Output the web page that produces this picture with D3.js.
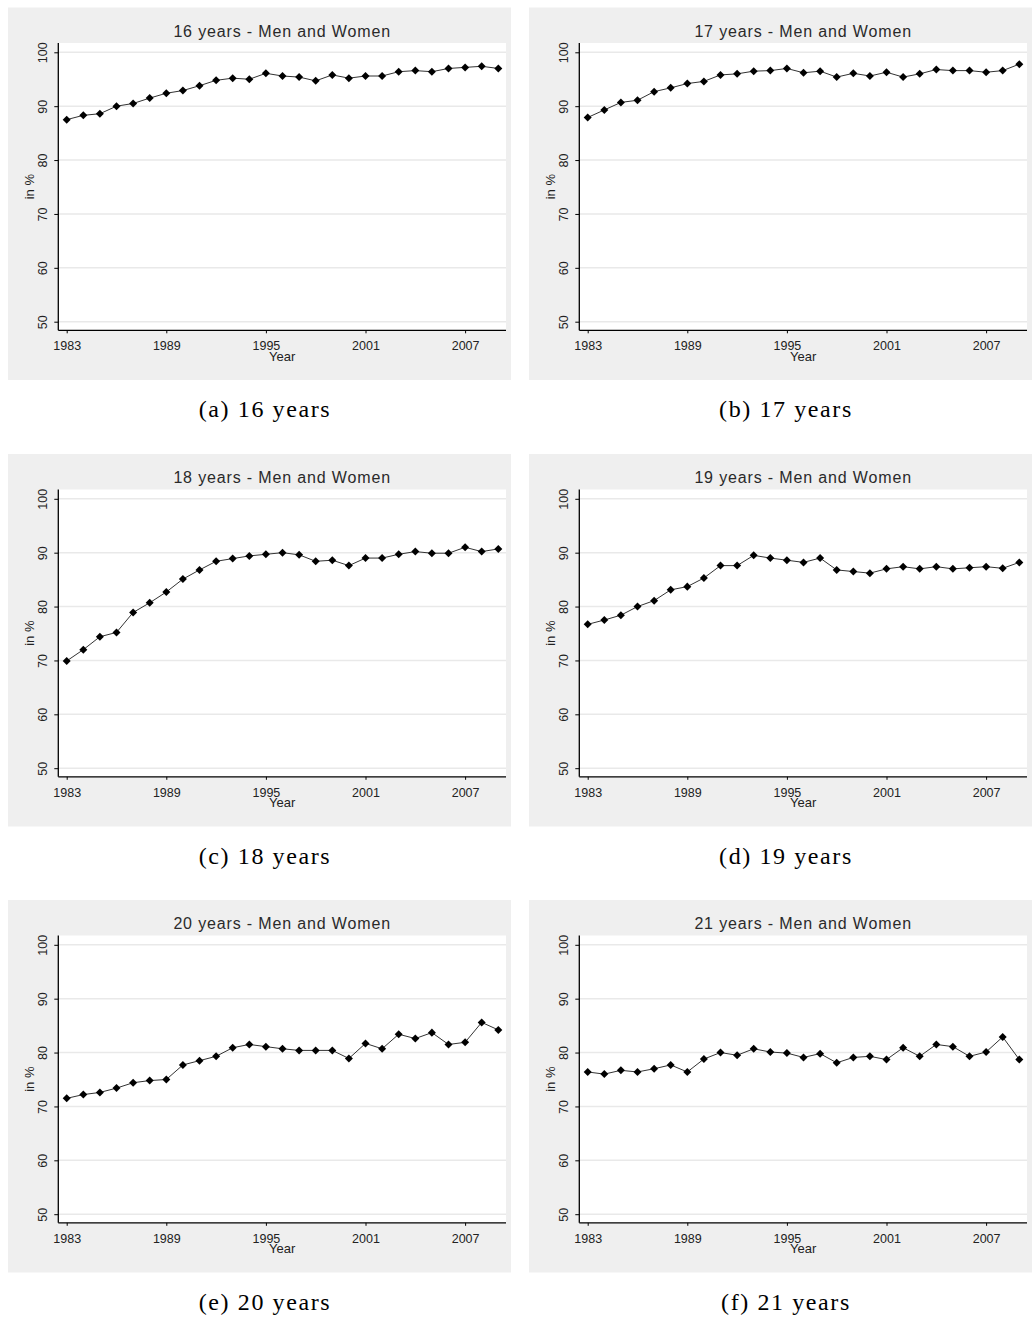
<!DOCTYPE html>
<html>
<head>
<meta charset="utf-8">
<script src="https://cdn.jsdelivr.net/npm/d3@7"></script>
<style>
  html, body { margin: 0; padding: 0; background: #ffffff; }
  svg { display: block; }
</style>
</head>
<body>
<svg id="chart" width="1034" height="1319"></svg>
<script>
// ---------- data ----------
const years = [1983,1984,1985,1986,1987,1988,1989,1990,1991,1992,1993,1994,1995,1996,1997,1998,1999,2000,2001,2002,2003,2004,2005,2006,2007,2008,2009];
const xTicks = [1983, 1989, 1995, 2001, 2007];
const yTicks = [50, 60, 70, 80, 90, 100];

const age16 = [87.5,88.3,88.6,90.0,90.5,91.5,92.4,92.9,93.8,94.8,95.2,95.0,96.1,95.6,95.4,94.7,95.8,95.2,95.6,95.6,96.4,96.6,96.4,97.0,97.2,97.4,97.0];
const age17 = [87.9,89.3,90.7,91.1,92.7,93.4,94.2,94.6,95.8,96.0,96.5,96.6,97.0,96.2,96.5,95.4,96.1,95.6,96.3,95.4,96.0,96.8,96.6,96.6,96.3,96.6,97.8];
const age18 = [69.9,72.0,74.4,75.2,78.9,80.7,82.7,85.1,86.8,88.4,88.9,89.4,89.7,90.0,89.6,88.4,88.6,87.6,89.0,89.0,89.7,90.2,89.9,89.9,91.0,90.2,90.7];
const age19 = [76.7,77.5,78.4,80.0,81.1,83.1,83.7,85.3,87.6,87.6,89.5,89.0,88.6,88.2,89.0,86.8,86.5,86.2,87.0,87.4,87.0,87.4,87.0,87.2,87.4,87.1,88.2];
const age20 = [71.5,72.2,72.6,73.4,74.4,74.8,75.0,77.7,78.5,79.3,80.9,81.5,81.1,80.7,80.4,80.4,80.4,78.9,81.7,80.7,83.4,82.6,83.7,81.5,81.9,85.6,84.2];
const age21 = [76.4,76.0,76.7,76.4,77.0,77.7,76.4,78.8,80.0,79.5,80.7,80.1,79.9,79.1,79.8,78.1,79.1,79.3,78.7,80.9,79.3,81.5,81.1,79.3,80.1,82.9,78.7];

const titles = ["16 years - Men and Women","17 years - Men and Women","18 years - Men and Women",
                "19 years - Men and Women","20 years - Men and Women","21 years - Men and Women"];
const captions = ["(a) 16 years","(b) 17 years","(c) 18 years","(d) 19 years","(e) 20 years","(f) 21 years"];
const series = [age16, age17, age18, age19, age20, age21];

// ---------- layout ----------
const colX = [8, 529];
const rowY = [7.5, 454, 900];
const panelW = 503, panelH = 372.5;
const plot = { left: 50.3, right: 498, top: 35.5, bottom: 322.8 };

const x = d3.scaleLinear().domain([1983, 2009]).range([58.7, 490.3]);
const y = d3.scaleLinear().domain([50, 100]).range([314.2, 44.8]);

const svg = d3.select("#chart");

series.forEach((vals, i) => {
  const px = colX[i % 2], py = rowY[Math.floor(i / 2)];
  const g = svg.append("g").attr("transform", `translate(${px},${py})`);

  // panel background
  g.append("rect").attr("x", 0).attr("y", 0).attr("width", panelW).attr("height", panelH)
    .attr("fill", "#efefef");
  // plot region
  g.append("rect").attr("x", plot.left).attr("y", plot.top)
    .attr("width", plot.right - plot.left).attr("height", plot.bottom - plot.top)
    .attr("fill", "#ffffff");

  // gridlines
  g.append("g").selectAll("line").data(yTicks).join("line")
    .attr("x1", plot.left).attr("x2", plot.right)
    .attr("y1", d => y(d)).attr("y2", d => y(d))
    .attr("stroke", "#e9e9e9").attr("stroke-width", 1.4);

  // title
  g.append("text").attr("x", (plot.left + plot.right) / 2).attr("y", 29.2)
    .attr("text-anchor", "middle")
    .attr("font-family", "'Liberation Sans', Arial, sans-serif")
    .attr("font-size", 16).attr("letter-spacing", 0.85).attr("fill", "#2a2a2a")
    .text(titles[i]);

  // y axis
  const yAxis = g.append("g").attr("transform", `translate(${plot.left},0)`)
    .call(d3.axisLeft(y).tickValues(yTicks).tickSize(4).tickSizeOuter(0));
  yAxis.select(".domain").attr("d", `M0,${plot.top}V${plot.bottom}`)
    .attr("stroke", "#000").attr("stroke-width", 1.3);
  yAxis.selectAll(".tick line").attr("stroke", "#000").attr("stroke-width", 1);
  yAxis.selectAll(".tick text")
    .attr("transform", "rotate(-90)")
    .attr("x", 0).attr("y", -11.6).attr("dy", 0)
    .attr("text-anchor", "middle")
    .attr("font-family", "'Liberation Sans', Arial, sans-serif")
    .attr("font-size", 12.5).attr("fill", "#222");

  // x axis
  const xAxis = g.append("g").attr("transform", `translate(0,${plot.bottom})`)
    .call(d3.axisBottom(x).tickValues(xTicks).tickFormat(d3.format("d")).tickSize(3).tickSizeOuter(0));
  xAxis.select(".domain").attr("d", `M${plot.left},0H${plot.right}`)
    .attr("stroke", "#000").attr("stroke-width", 1.3);
  xAxis.selectAll(".tick line").attr("stroke", "#000").attr("stroke-width", 1);
  xAxis.selectAll(".tick text")
    .attr("y", 20).attr("dy", 0)
    .attr("font-family", "'Liberation Sans', Arial, sans-serif")
    .attr("font-size", 12.5).attr("fill", "#222");

  // axis titles
  g.append("text").attr("x", (plot.left + plot.right) / 2).attr("y", plot.bottom + 30.4)
    .attr("text-anchor", "middle")
    .attr("font-family", "'Liberation Sans', Arial, sans-serif")
    .attr("font-size", 13).attr("fill", "#222").text("Year");
  g.append("text")
    .attr("transform", `translate(${plot.left - 24.8},${(plot.top + plot.bottom) / 2}) rotate(-90)`)
    .attr("text-anchor", "middle")
    .attr("font-family", "'Liberation Sans', Arial, sans-serif")
    .attr("font-size", 13).attr("fill", "#222").text("in %");

  // line
  const pts = years.map((yr, k) => [yr, vals[k]]);
  g.append("path").datum(pts)
    .attr("fill", "none").attr("stroke", "#333").attr("stroke-width", 1)
    .attr("d", d3.line().x(d => x(d[0])).y(d => y(d[1])));

  // markers
  g.append("g").selectAll("path").data(pts).join("path")
    .attr("transform", d => `translate(${x(d[0])},${y(d[1])}) rotate(45)`)
    .attr("d", d3.symbol(d3.symbolSquare, 32))
    .attr("fill", "#000");

  // caption
  svg.append("text").attr("x", px + 257).attr("y", py + panelH + 37)
    .attr("text-anchor", "middle")
    .attr("font-family", "'Liberation Serif', 'Times New Roman', serif")
    .attr("font-size", 24).attr("letter-spacing", 1.6).attr("fill", "#000")
    .text(captions[i]);
});
</script>
</body>
</html>
